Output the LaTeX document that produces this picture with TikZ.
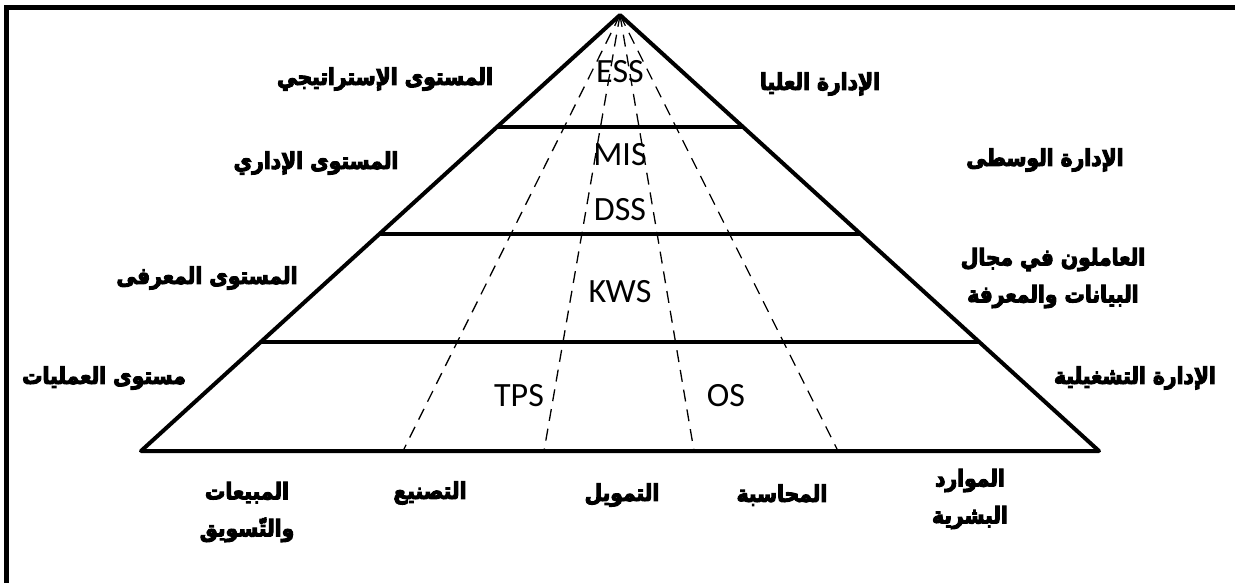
\documentclass[tikz,border=0pt]{standalone}
\usepackage{fontspec}
\setmainfont{Carlito}
\newfontfamily\arabicfont[Script=Arabic, FakeStretch=0.88, BoldFeatures={FakeBold=4.5}]{DejaVu Sans}
\TeXXeTstate=1
\usetikzlibrary{calc}

\begin{document}
\begin{tikzpicture}[x=1pt,y=-1pt,
  frameline/.style={line width=5pt, line join=miter},
  outline/.style={line width=4pt, line join=round, line cap=round},
  divider/.style={line width=4pt},
  sysline/.style={line width=1.3pt, dash pattern=on 12pt off 8pt},
  syslabel/.style={font=\fontsize{34}{36}\selectfont, inner sep=0pt},
  arlabel/.style={font=\arabicfont\bfseries\fontsize{23}{37}\selectfont, inner sep=0pt, align=center},
]
\useasboundingbox (0,0) rectangle (1235,583);

% outer frame (top and left edges)
\coordinate (fbl) at (6.5,583);
\coordinate (ftl) at (6.5,8);
\coordinate (ftr) at (1235,8);
\draw[frameline] (fbl) -- (ftl) -- (ftr);

% pyramid corners
\coordinate (apex) at (620,15);
\coordinate (bl) at (141,451);
\coordinate (br) at (1099,451);

% level boundaries on the two sides
\foreach \name/\t in {a/0.257, b/0.502, c/0.751} {
  \coordinate (\name L) at ($(apex)!\t!(bl)$);
  \coordinate (\name R) at ($(apex)!\t!(br)$);
}

% base points of the system dividers
\coordinate (d1) at (403,451);
\coordinate (d2) at (544,451);
\coordinate (d3) at (694,451);
\coordinate (d4) at (838,451);

% dashed dividers
\foreach \d in {d1,d2,d3,d4}
  \draw[sysline] (apex) -- (\d);

% pyramid outline and levels
\draw[outline] (apex) -- (bl) -- (br) -- cycle;
\draw[divider] (aL) -- (aR);
\draw[divider] (bL) -- (bR);
\draw[divider] (cL) -- (cR);

% system names
\node[syslabel] (ess) at (620,72) {ESS};
\node[syslabel] (mis) at (620,155) {MIS};
\node[syslabel] (dss) at (620,210) {DSS};
\node[syslabel] (kws) at (620,292) {KWS};
\node[syslabel] (tps) at (519,396) {TPS};
\node[syslabel] (os)  at (726,396) {OS};

% levels (left)
\node[arlabel] (lv1) at (385,79)  {\beginR المستوى الإستراتيجي\endR};
\node[arlabel] (lv2) at (316,163) {\beginR المستوى الإداري\endR};
\node[arlabel] (lv3) at (207,278) {\beginR المستوى المعرفى\endR};
\node[arlabel] (lv4) at (104,378) {\beginR مستوى العمليات\endR};

% management (right)
\node[arlabel] (mg1) at (820,84)   {\beginR الإدارة العليا\endR};
\node[arlabel] (mg2) at (1045,160) {\beginR الإدارة الوسطى\endR};
\node[arlabel] (mg3) at (1053,278) {\beginR العاملون في مجال\endR\\\beginR البيانات والمعرفة\endR};
\node[arlabel] (mg4) at (1135,378) {\beginR الإدارة التشغيلية\endR};

% functional areas (bottom)
\node[arlabel] (f1) at (247,512) {\beginR المبيعات\endR\\\beginR والتّسويق\endR};
\node[arlabel] (f2) at (430,493) {\beginR التصنيع\endR};
\node[arlabel] (f3) at (622,495) {\beginR التمويل\endR};
\node[arlabel] (f4) at (782,495) {\beginR المحاسبة\endR};
\node[arlabel] (f5) at (970,499) {\beginR الموارد\endR\\\beginR البشرية\endR};
\end{tikzpicture}
\end{document}
